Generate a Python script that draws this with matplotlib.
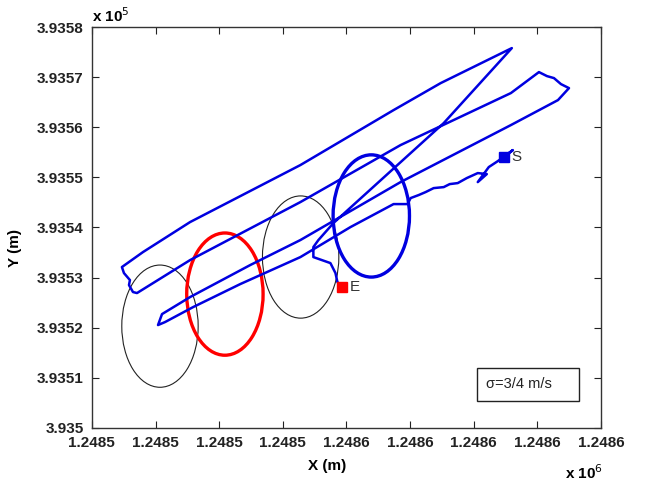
import numpy as np
import matplotlib
matplotlib.use('Agg')
import matplotlib.pyplot as plt
from matplotlib.patches import Ellipse, Rectangle

# ==========================================================
# Local origin of the survey area (m)
# ==========================================================

east0 = 1248500.0
north0 = 393500.0

# ==========================================================
# GPS track, metres east / north of the local origin
# (first point = start S, last point = end E)
# ==========================================================

track_east = [
    74.72, 76.14, 73.78, 72.36, 70.63, 72.05, 70.63, 68.90, 67.48, 66.22,
    65.28, 63.70, 62.44, 61.34, 60.08, 59.61, 57.40, 50.63, 42.76, 33.31,
    25.91, 21.50, 20.39, 21.02, 25.43, 34.88, 42.76, 58.50, 75.83, 83.23,
    84.96, 83.70, 82.60, 81.50, 80.24, 75.83, 58.50, 42.76, 25.43, 17.09,
    16.46, 15.83, 15.98, 15.04, 14.72, 18.03, 25.43, 42.76, 57.40, 64.80,
    75.98, 65.28, 60.08, 47.95, 45.59, 44.80, 44.80, 47.48, 48.27, 48.58,
    49.37,
]

track_north = [
    54.05, 55.45, 53.25, 52.06, 49.06, 50.66, 50.86, 49.86, 48.86, 48.66,
    48.06, 47.86, 47.07, 46.47, 45.87, 44.67, 44.67, 40.08, 34.09, 28.70,
    24.11, 21.12, 20.52, 22.71, 26.11, 32.50, 37.49, 49.06, 60.44, 65.43,
    67.82, 68.62, 69.82, 70.22, 71.02, 66.83, 56.45, 45.07, 33.49, 26.91,
    27.11, 28.50, 29.50, 30.90, 32.10, 35.09, 41.08, 52.46, 63.43, 68.82,
    75.81, 60.84, 54.85, 40.88, 37.49, 36.09, 34.09, 32.89, 30.90, 29.10,
    28.10,
]

# ==========================================================
# Uncertainty ellipses (centre east, centre north)
# ==========================================================

ellipse_east = [20.7, 30.9, 42.8, 53.9]
ellipse_north = [20.3, 26.7, 34.1, 42.3]
ellipse_width = 12.0
ellipse_height = 24.4
ellipse_colors = ['#222222', 'red', '#222222', '#0000e0']
ellipse_lw = [0.8, 2.4, 0.8, 2.4]

sigma_text = 'σ=3/4 m/s'

# ==========================================================
# Axis ticks
# ==========================================================

x_ticks = [1248510 + 10 * k for k in range(9)]
x_tick_labels = ['1.2485'] * 4 + ['1.2486'] * 5

y_ticks = [393500 + 10 * k for k in range(9)]
y_tick_labels = ['3.935', '3.9351', '3.9352', '3.9353', '3.9354',
                 '3.9355', '3.9356', '3.9357', '3.9358']

# ==========================================================
# Figure
# ==========================================================

plt.rcParams['font.family'] = ['Liberation Sans', 'DejaVu Sans']

fig = plt.figure(figsize=(6.47, 4.84), dpi=100)
ax = fig.add_axes([0.142, 0.116, 0.787, 0.828])

x = east0 + np.array(track_east)
y = north0 + np.array(track_north)

# Track
ax.plot(x, y, color='#0000e0', linewidth=1.8, zorder=3)

# Start / end markers
ax.plot(x[0], y[0], 's', color='#0000e0', markersize=7.5, zorder=4)
ax.plot(x[-1], y[-1], 's', color='red', markersize=7.5, zorder=4)
ax.text(x[0] + 1.2, y[0], 'S', fontsize=11, color='#333333',
        va='center', ha='left')
ax.text(x[-1] + 1.2, y[-1], 'E', fontsize=11, color='#333333',
        va='center', ha='left')

# Ellipses
for ex, ny, c, lw in zip(ellipse_east, ellipse_north,
                         ellipse_colors, ellipse_lw):
    ax.add_patch(Ellipse((east0 + ex, north0 + ny),
                         ellipse_width, ellipse_height,
                         fill=False, edgecolor=c, linewidth=lw, zorder=2))

# Sigma annotation box
ax.add_patch(Rectangle((0.756, 0.067), 0.200, 0.082,
                       transform=ax.transAxes, fill=False,
                       edgecolor='#222222', linewidth=1.0))
ax.text(0.774, 0.110, sigma_text, transform=ax.transAxes,
        fontsize=10.5, color='#222222', va='center', ha='left')

# ==========================================================
# Axis formatting
# ==========================================================

ax.set_xlim(x_ticks[0], x_ticks[-1])
ax.set_ylim(y_ticks[0], y_ticks[-1])

ax.set_xticks(x_ticks)
ax.set_xticklabels(x_tick_labels, fontweight='bold', fontsize=11)
ax.set_yticks(y_ticks)
ax.set_yticklabels(y_tick_labels, fontweight='bold', fontsize=11)

ax.tick_params(direction='in', length=5, width=0.8,
               top=True, right=True, colors='#222222')
ax.tick_params(axis='x', pad=6)
ax.tick_params(axis='y', pad=6)

for s in ax.spines.values():
    s.set_color('#333333')
    s.set_linewidth(1.0)

ax.set_xlabel('X (m)', fontweight='bold', fontsize=11)
ax.set_ylabel('Y (m)', fontweight='bold', fontsize=11)
ax.xaxis.set_label_coords(0.462, -0.078)
ax.yaxis.set_label_coords(-0.1375, 0.449)

# Exponent labels
fig.text(0.142, 0.968, r'x 10$^{5}$', fontweight='bold', fontsize=11,
         ha='left', va='center')
fig.text(0.873, 0.023, r'x 10$^{6}$', fontweight='bold', fontsize=11,
         ha='left', va='center')

fig.savefig('out.png', dpi=100)
